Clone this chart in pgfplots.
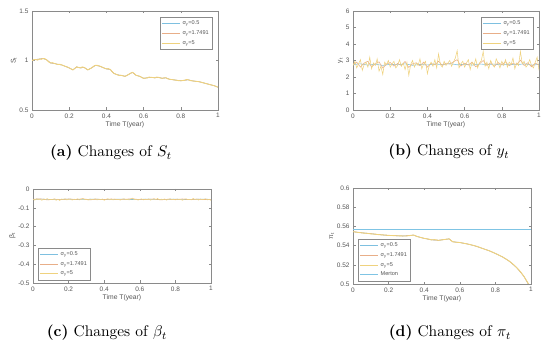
\documentclass[border=0pt]{standalone}
\usepackage{pgfplots}
\pgfplotsset{compat=1.18}
\usepackage{fontspec}
\newfontfamily\axfont{Liberation Sans}
\definecolor{cblue}{HTML}{7EC0E0}
\definecolor{corange}{HTML}{E8AE88}
\definecolor{cyellow}{HTML}{EFD27E}
\definecolor{cmerton}{HTML}{7FC4E4}
\definecolor{axgray}{HTML}{8A8A8A}
\definecolor{txgray}{HTML}{555555}

\pgfplotsset{
  panel/.style={
    scale only axis, anchor=south west,
    xmin=0, xmax=1, xtick={0,0.2,0.4,0.6,0.8,1},
    axis line style={axgray}, every tick/.style={axgray},
    tick align=inside, major tick length=2.5bp,
    /pgf/number format/assume math mode=true,
    tick label style={font=\axfont\fontsize{6.5}{7}\selectfont, text=txgray},
    xlabel={Time T(year)},
    label style={font=\axfont\fontsize{6.8}{7.5}\selectfont, text=txgray},
    xlabel style={yshift=3bp},
    ylabel style={yshift=-4bp},
    legend cell align=left,
    legend style={font=\axfont\fontsize{5.6}{6.2}\selectfont, draw=axgray, text=txgray,
      inner sep=1.5bp, row sep=0.5bp},
    legend image code/.code={\draw[#1, line width=0.7pt] (0bp,0bp) -- (18bp,0bp);},
    every axis plot/.append style={line width=0.55pt},
  }
}
\newcommand{\sig}[1]{σ\textsubscript{y}=#1}

\begin{document}
\begin{tikzpicture}
\useasboundingbox (0,0) rectangle (550bp,341bp);

% ---------- (a) S_t ----------
\begin{axis}[panel, at={(32bp,231bp)}, width=186bp, height=99bp,
  ymin=0.5, ymax=1.5, ytick={0.5,1,1.5}, ylabel={S\textsubscript{t}},
  legend style={at={(0.97,0.94)}, anchor=north east}]
\addplot[cblue] table {
0.00 1.000
0.02 1.010
0.04 1.015
0.06 1.020
0.08 1.005
0.10 0.975
0.12 0.970
0.14 0.960
0.16 0.955
0.18 0.940
0.20 0.925
0.22 0.905
0.24 0.935
0.26 0.925
0.28 0.930
0.30 0.905
0.32 0.925
0.34 0.950
0.36 0.945
0.38 0.930
0.40 0.915
0.42 0.910
0.44 0.870
0.46 0.855
0.48 0.850
0.50 0.840
0.52 0.860
0.54 0.880
0.56 0.850
0.58 0.840
0.60 0.820
0.62 0.825
0.64 0.830
0.66 0.825
0.68 0.830
0.70 0.820
0.72 0.825
0.74 0.810
0.76 0.805
0.78 0.800
0.80 0.795
0.82 0.800
0.84 0.805
0.86 0.795
0.88 0.790
0.90 0.785
0.92 0.775
0.94 0.765
0.96 0.755
0.98 0.745
1.00 0.730
};
\addlegendentry{\sig{0.5}}
\addplot[corange] table {
0.00 1.000
0.02 1.010
0.04 1.015
0.06 1.020
0.08 1.005
0.10 0.975
0.12 0.970
0.14 0.960
0.16 0.955
0.18 0.940
0.20 0.925
0.22 0.905
0.24 0.935
0.26 0.925
0.28 0.930
0.30 0.905
0.32 0.925
0.34 0.950
0.36 0.945
0.38 0.930
0.40 0.915
0.42 0.910
0.44 0.870
0.46 0.855
0.48 0.850
0.50 0.840
0.52 0.860
0.54 0.880
0.56 0.850
0.58 0.840
0.60 0.820
0.62 0.825
0.64 0.830
0.66 0.825
0.68 0.830
0.70 0.820
0.72 0.825
0.74 0.810
0.76 0.805
0.78 0.800
0.80 0.795
0.82 0.800
0.84 0.805
0.86 0.795
0.88 0.790
0.90 0.785
0.92 0.775
0.94 0.765
0.96 0.755
0.98 0.745
1.00 0.730
};
\addlegendentry{\sig{1.7491}}
\addplot[cyellow, line width=0.9pt] table {
0.00 1.000
0.01 1.008
0.02 1.010
0.03 1.004
0.04 1.015
0.05 1.012
0.06 1.020
0.07 1.018
0.08 1.005
0.09 0.985
0.10 0.975
0.11 0.978
0.12 0.970
0.13 0.965
0.14 0.960
0.15 0.962
0.16 0.955
0.17 0.948
0.18 0.940
0.19 0.935
0.20 0.925
0.21 0.915
0.22 0.905
0.23 0.920
0.24 0.935
0.25 0.930
0.26 0.925
0.27 0.935
0.28 0.930
0.29 0.918
0.30 0.905
0.31 0.915
0.32 0.925
0.33 0.940
0.34 0.950
0.35 0.952
0.36 0.945
0.37 0.940
0.38 0.930
0.39 0.922
0.40 0.915
0.41 0.918
0.42 0.910
0.43 0.890
0.44 0.870
0.45 0.862
0.46 0.855
0.47 0.848
0.48 0.850
0.49 0.845
0.50 0.840
0.51 0.848
0.52 0.860
0.53 0.872
0.54 0.880
0.55 0.868
0.56 0.850
0.57 0.845
0.58 0.840
0.59 0.828
0.60 0.820
0.61 0.822
0.62 0.825
0.63 0.832
0.64 0.830
0.65 0.828
0.66 0.825
0.67 0.832
0.68 0.830
0.69 0.824
0.70 0.820
0.71 0.826
0.72 0.825
0.73 0.815
0.74 0.810
0.75 0.808
0.76 0.805
0.77 0.802
0.78 0.800
0.79 0.796
0.80 0.795
0.81 0.798
0.82 0.800
0.83 0.808
0.84 0.805
0.85 0.798
0.86 0.795
0.87 0.792
0.88 0.790
0.89 0.788
0.90 0.785
0.91 0.780
0.92 0.775
0.93 0.770
0.94 0.765
0.95 0.760
0.96 0.755
0.97 0.750
0.98 0.745
0.99 0.738
1.00 0.730
};
\addlegendentry{\sig{5}}
\end{axis}

% ---------- (b) y_t ----------
\begin{axis}[panel, at={(353bp,231bp)}, width=186bp, height=99bp,
  ymin=0, ymax=6, ytick={0,1,2,3,4,5,6}, ylabel={y\textsubscript{t}},
  legend style={at={(0.97,0.94)}, anchor=north east}]
\addplot[cblue] table {
0.00 2.75
0.04 2.80
0.08 2.72
0.12 2.78
0.16 2.70
0.20 2.77
0.24 2.74
0.28 2.80
0.32 2.71
0.36 2.76
0.40 2.73
0.44 2.79
0.48 2.75
0.52 2.81
0.56 2.74
0.60 2.77
0.64 2.72
0.68 2.79
0.72 2.75
0.76 2.78
0.80 2.73
0.84 2.77
0.88 2.74
0.92 2.80
0.96 2.72
1.00 2.76
};
\addlegendentry{\sig{0.5}}
\addplot[corange] table {
0.00 2.75
0.02 2.90
0.04 2.60
0.06 2.85
0.08 2.95
0.10 2.62
0.12 2.80
0.14 2.92
0.16 2.55
0.18 2.78
0.20 2.88
0.22 2.66
0.24 2.82
0.26 2.70
0.28 2.94
0.30 2.58
0.32 2.80
0.34 2.86
0.36 2.68
0.38 2.90
0.40 2.60
0.42 2.82
0.44 2.74
0.46 2.96
0.48 2.70
0.50 2.84
0.52 2.78
0.54 2.92
0.56 3.05
0.58 2.66
0.60 2.84
0.62 2.72
0.64 2.90
0.66 2.62
0.68 2.80
0.70 3.00
0.72 2.70
0.74 2.86
0.76 2.64
0.78 2.88
0.80 2.74
0.82 2.92
0.84 2.68
0.86 2.82
0.88 2.76
0.90 3.02
0.92 2.70
0.94 2.86
0.96 2.62
0.98 2.84
1.00 2.72
};
\addlegendentry{\sig{1.7491}}
\addplot[cyellow] table {
0.00 2.70
0.01 2.95
0.02 2.55
0.03 2.80
0.04 3.05
0.05 2.40
0.06 2.75
0.07 2.90
0.08 2.60
0.09 3.20
0.10 2.50
0.11 2.85
0.12 2.70
0.13 3.10
0.14 2.35
0.15 2.65
0.16 2.15
0.17 2.90
0.18 2.75
0.19 3.00
0.20 2.60
0.21 2.80
0.22 2.95
0.23 2.55
0.24 2.70
0.25 3.05
0.26 2.65
0.27 2.85
0.28 2.45
0.29 2.90
0.30 2.10
0.31 2.75
0.32 3.00
0.33 2.60
0.34 2.85
0.35 2.70
0.36 3.10
0.37 2.50
0.38 2.80
0.39 2.95
0.40 2.20
0.41 2.70
0.42 2.90
0.43 2.65
0.44 3.05
0.45 2.55
0.46 3.40
0.47 2.75
0.48 2.60
0.49 2.95
0.50 2.70
0.51 2.85
0.52 3.00
0.53 2.65
0.54 2.90
0.55 3.15
0.56 3.60
0.57 2.55
0.58 2.80
0.59 2.95
0.60 2.60
0.61 2.85
0.62 3.05
0.63 2.45
0.64 2.90
0.65 2.70
0.66 3.10
0.67 2.55
0.68 2.85
0.69 3.00
0.70 3.55
0.71 2.65
0.72 2.90
0.73 2.50
0.74 3.00
0.75 2.75
0.76 2.60
0.77 3.10
0.78 2.85
0.79 2.55
0.80 2.95
0.81 2.70
0.82 3.05
0.83 2.60
0.84 2.90
0.85 2.75
0.86 3.15
0.87 2.50
0.88 2.85
0.89 2.70
0.90 3.55
0.91 2.80
0.92 2.95
0.93 2.60
0.94 2.75
0.95 3.05
0.96 2.70
0.97 2.55
0.98 2.90
0.99 3.20
1.00 2.40
};
\addlegendentry{\sig{5}}
\end{axis}

% ---------- (c) beta_t ----------
\begin{axis}[panel, at={(33bp,58bp)}, width=178bp, height=94bp,
  ymin=-0.5, ymax=0, ytick={-0.5,-0.4,-0.3,-0.2,-0.1,0}, ylabel={β\textsubscript{t}},
  legend style={at={(0.03,0.03)}, anchor=south west}]
\addplot[cblue] table {
0.00 -0.055
0.05 -0.054
0.10 -0.056
0.15 -0.055
0.20 -0.054
0.25 -0.056
0.30 -0.055
0.35 -0.054
0.40 -0.056
0.45 -0.055
0.50 -0.054
0.55 -0.056
0.60 -0.055
0.65 -0.054
0.70 -0.056
0.75 -0.055
0.80 -0.054
0.85 -0.056
0.90 -0.055
0.95 -0.054
1.00 -0.055
};
\addlegendentry{\sig{0.5}}
\addplot[corange] table {
0.00 -0.055
0.04 -0.052
0.08 -0.058
0.12 -0.054
0.16 -0.057
0.20 -0.053
0.24 -0.056
0.28 -0.052
0.32 -0.058
0.36 -0.054
0.40 -0.056
0.44 -0.053
0.48 -0.057
0.52 -0.054
0.56 -0.052
0.60 -0.057
0.64 -0.055
0.68 -0.053
0.72 -0.058
0.76 -0.054
0.80 -0.056
0.84 -0.053
0.88 -0.057
0.92 -0.054
0.96 -0.056
1.00 -0.055
};
\addlegendentry{\sig{1.7491}}
\addplot[cyellow] table {
0.00 -0.055
0.01 -0.059
0.02 -0.052
0.03 -0.057
0.04 -0.054
0.05 -0.060
0.06 -0.053
0.07 -0.056
0.08 -0.051
0.09 -0.058
0.10 -0.055
0.11 -0.057
0.12 -0.052
0.13 -0.060
0.14 -0.054
0.15 -0.061
0.16 -0.053
0.17 -0.056
0.18 -0.052
0.19 -0.058
0.20 -0.055
0.21 -0.053
0.22 -0.059
0.23 -0.054
0.24 -0.056
0.25 -0.052
0.26 -0.058
0.27 -0.055
0.28 -0.050
0.29 -0.057
0.30 -0.054
0.31 -0.059
0.32 -0.053
0.33 -0.056
0.34 -0.055
0.35 -0.052
0.36 -0.058
0.37 -0.054
0.38 -0.057
0.39 -0.053
0.40 -0.060
0.41 -0.055
0.42 -0.052
0.43 -0.057
0.44 -0.054
0.45 -0.058
0.46 -0.053
0.47 -0.056
0.48 -0.055
0.49 -0.059
0.50 -0.054
0.51 -0.052
0.52 -0.057
0.53 -0.055
0.54 -0.058
0.55 -0.053
0.56 -0.049
0.57 -0.057
0.58 -0.054
0.59 -0.059
0.60 -0.055
0.61 -0.052
0.62 -0.058
0.63 -0.054
0.64 -0.056
0.65 -0.053
0.66 -0.059
0.67 -0.055
0.68 -0.052
0.69 -0.057
0.70 -0.050
0.71 -0.058
0.72 -0.054
0.73 -0.056
0.74 -0.053
0.75 -0.059
0.76 -0.055
0.77 -0.052
0.78 -0.057
0.79 -0.054
0.80 -0.058
0.81 -0.053
0.82 -0.056
0.83 -0.055
0.84 -0.060
0.85 -0.054
0.86 -0.052
0.87 -0.057
0.88 -0.055
0.89 -0.058
0.90 -0.050
0.91 -0.056
0.92 -0.054
0.93 -0.059
0.94 -0.053
0.95 -0.057
0.96 -0.055
0.97 -0.052
0.98 -0.058
0.99 -0.054
1.00 -0.061
};
\addlegendentry{\sig{5}}
\end{axis}

% ---------- (d) pi_t ----------
\begin{axis}[panel, at={(353bp,57bp)}, width=178bp, height=96bp,
  ymin=0.5, ymax=0.6, ytick={0.5,0.52,0.54,0.56,0.58,0.6},
  yticklabel style={/pgf/number format/fixed}, ylabel={π\textsubscript{t}},
  legend style={at={(0.03,0.03)}, anchor=south west}]
\addplot[cblue] table {
0.00 0.5545
0.04 0.5535
0.08 0.5528
0.12 0.5520
0.16 0.5512
0.20 0.5506
0.24 0.5503
0.28 0.5500
0.32 0.5505
0.34 0.5510
0.36 0.5495
0.40 0.5475
0.44 0.5460
0.48 0.5455
0.52 0.5465
0.54 0.5470
0.56 0.5440
0.60 0.5432
0.64 0.5418
0.68 0.5400
0.72 0.5375
0.76 0.5350
0.80 0.5318
0.84 0.5282
0.88 0.5235
0.92 0.5170
0.96 0.5080
1.00 0.4950
};
\addlegendentry{\sig{0.5}}
\addplot[corange] table {
0.00 0.5545
0.04 0.5535
0.08 0.5528
0.12 0.5520
0.16 0.5512
0.20 0.5506
0.24 0.5503
0.28 0.5500
0.32 0.5505
0.34 0.5510
0.36 0.5495
0.40 0.5475
0.44 0.5460
0.48 0.5455
0.52 0.5465
0.54 0.5470
0.56 0.5440
0.60 0.5432
0.64 0.5418
0.68 0.5400
0.72 0.5375
0.76 0.5350
0.80 0.5318
0.84 0.5282
0.88 0.5235
0.92 0.5170
0.96 0.5080
1.00 0.4950
};
\addlegendentry{\sig{1.7491}}
\addplot[cyellow, line width=0.9pt] table {
0.00 0.5545
0.02 0.5540
0.04 0.5535
0.06 0.5530
0.08 0.5528
0.10 0.5522
0.12 0.5520
0.14 0.5515
0.16 0.5512
0.18 0.5510
0.20 0.5506
0.22 0.5505
0.24 0.5503
0.26 0.5502
0.28 0.5500
0.30 0.5500
0.32 0.5505
0.34 0.5510
0.36 0.5495
0.38 0.5485
0.40 0.5475
0.42 0.5470
0.44 0.5460
0.46 0.5462
0.48 0.5455
0.50 0.5460
0.52 0.5465
0.54 0.5470
0.56 0.5440
0.58 0.5435
0.60 0.5432
0.62 0.5425
0.64 0.5418
0.66 0.5410
0.68 0.5400
0.70 0.5390
0.72 0.5375
0.74 0.5362
0.76 0.5350
0.78 0.5335
0.80 0.5318
0.82 0.5300
0.84 0.5282
0.86 0.5260
0.88 0.5235
0.90 0.5205
0.92 0.5170
0.94 0.5130
0.96 0.5080
0.98 0.5020
1.00 0.4950
};
\addlegendentry{\sig{5}}
\addplot[cmerton, line width=0.8pt] table {
0.00 0.5572
1.00 0.5572
};
\addlegendentry{Merton}
\end{axis}

% ---------- captions ----------
\node[scale=1.55] at (111bp,188bp) {\textbf{(a)} Changes of $S_t$};
\node[scale=1.55] at (449bp,189bp) {\textbf{(b)} Changes of $y_t$};
\node[scale=1.55] at (107bp,8bp) {\textbf{(c)} Changes of $\beta_t$};
\node[scale=1.55] at (450bp,8bp) {\textbf{(d)} Changes of $\pi_t$};
\end{tikzpicture}
\end{document}
